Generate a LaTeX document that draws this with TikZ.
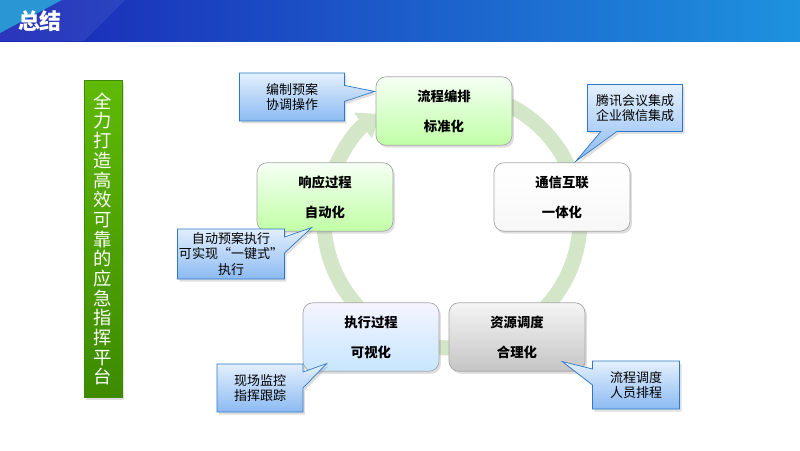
\documentclass[tikz,border=0pt]{standalone}
\usepackage{fontspec}
\setmainfont{Noto Sans CJK SC}
\usetikzlibrary{shapes.callouts,shadows,arrows.meta}

\definecolor{hdrleft}{HTML}{1A26B6}
\definecolor{hdrright}{HTML}{1E92DE}
\definecolor{hdrlite}{HTML}{2A96D4}
\definecolor{ringgreen}{HTML}{D3E6C8}
\definecolor{bartop}{HTML}{60BA06}
\definecolor{barbot}{HTML}{3D8A00}
\definecolor{notetop}{HTML}{E4F0FD}
\definecolor{notebot}{HTML}{8CBAF2}
\definecolor{noteline}{HTML}{2F78C8}

\begin{document}
\begin{tikzpicture}[x=0.02cm, y=-0.02cm,
    stage/.style = {draw=black!35, rounded corners=0.2cm, minimum width=2.72cm,
      minimum height=1.37cm, align=center, inner sep=0pt,
      font=\bfseries\fontsize{7.6}{17}\selectfont,
      drop shadow={opacity=0.25, shadow xshift=0.04cm, shadow yshift=-0.05cm}},
    greenstage/.style = {stage, top color=green!4!white, bottom color=green!60!lime!35!white},
    whitestage/.style = {stage, top color=white, bottom color=black!3},
    bluestage/.style = {stage, top color=blue!4!white, bottom color=blue!45!cyan!22!white},
    graystage/.style = {stage, top color=black!4, bottom color=black!23},
    note/.style = {rectangle callout, draw=noteline, top color=notetop, bottom color=notebot,
      align=center, inner sep=0pt, callout pointer width=0.32cm,
      font=\fontsize{7.4}{8.9}\selectfont,
      drop shadow={opacity=0.25, shadow xshift=0.04cm, shadow yshift=-0.05cm}}]

    \useasboundingbox (0,0) rectangle (800,450);
    \fill[white] (0,0) rectangle (800,450);

    % header bar
    \shade[left color=hdrleft, right color=hdrright] (0,0) rectangle (800,41);
    \fill[white, opacity=0.07] (62,0) -- (125,0) -- (84,41) -- (0,41) -- (0,33) -- cycle;
    \fill[hdrlite] (0,0) -- (62,0) -- (0,33) -- cycle;
    \node[text=white, font=\bfseries\fontsize{12.5}{14}\selectfont] (title) at (40,21) {总结};

    % left slogan
    \node[top color=bartop, bottom color=barbot, draw=barbot, minimum width=0.76cm,
      minimum height=6.34cm, inner sep=0pt, text=white, align=center,
      font=\fontsize{10.4}{11.2}\selectfont,
      drop shadow={opacity=0.25, shadow xshift=0.04cm, shadow yshift=-0.05cm}] (slogan) at (103,239)
      {全\\力\\打\\造\\高\\效\\可\\靠\\的\\应\\急\\指\\挥\\平\\台};

    % cycle ring
    \draw[ringgreen, line width=0.3cm, -{Triangle[width=0.6cm,length=0.42cm]}]
      (452,220) ++(-75:128) arc[start angle=-75, end angle=236, radius=128];

    % stages
    \node[greenstage] (flow) at (444,111) {流程编排\\标准化};
    \node[whitestage] (link) at (562,197) {通信互联\\一体化};
    \node[greenstage] (resp) at (325,197) {响应过程\\自动化};
    \node[bluestage] (exec) at (371,337) {执行过程\\可视化};
    \node[graystage] (res) at (517,337) {资源调度\\合理化};

    % callouts
    \node[note, minimum width=2.1cm, minimum height=0.96cm,
      callout absolute pointer={([shift={(-1,15)}]flow.north west)}] (plan) at (292,97)
      {编制预案\\协调操作};
    \node[note, minimum width=1.9cm, minimum height=0.94cm,
      callout absolute pointer={([shift={(82,-1)}]link.north west)}] (meet) at (635,108)
      {腾讯会议集成\\企业微信集成};
    \node[note, minimum width=2.14cm, minimum height=1.0cm,
      callout absolute pointer={([shift={(55,-4)}]resp.south west)}] (auto) at (231,254)
      {自动预案执行\\可实现“一键式”\\执行};
    \node[note, minimum width=1.72cm, minimum height=0.96cm,
      callout absolute pointer={([shift={(24,-8)}]exec.south west)}] (watch) at (260,388)
      {现场监控\\指挥跟踪};
    \node[note, minimum width=1.74cm, minimum height=0.96cm,
      callout absolute pointer={([shift={(-23,-10)}]res.south east)}] (sched) at (636,385)
      {流程调度\\人员排程};
\end{tikzpicture}
\end{document}
